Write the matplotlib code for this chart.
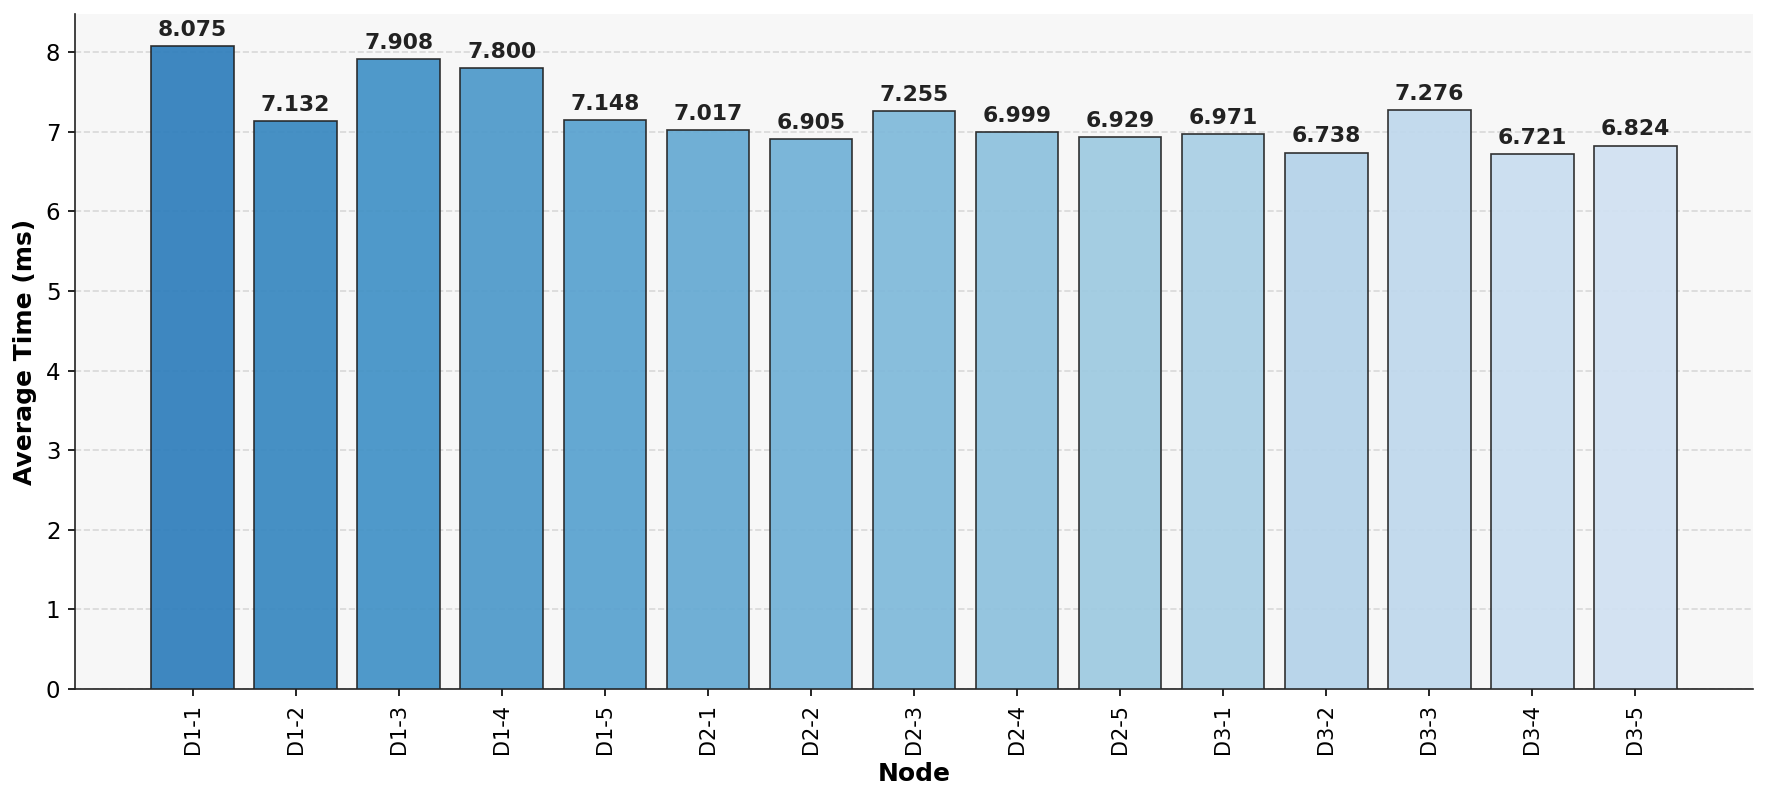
import matplotlib
matplotlib.use("Agg")
import matplotlib.pyplot as plt
import numpy as np

nodes = ["D1-1", "D1-2", "D1-3", "D1-4", "D1-5",
         "D2-1", "D2-2", "D2-3", "D2-4", "D2-5",
         "D3-1", "D3-2", "D3-3", "D3-4", "D3-5"]
avg_time = [8.075, 7.132, 7.908, 7.800, 7.148,
            7.017, 6.905, 7.255, 6.999, 6.929,
            6.971, 6.738, 7.276, 6.721, 6.824]

fig = plt.figure(figsize=(1767 / 150, 794 / 150), dpi=150)
ax = fig.add_axes([75 / 1767, 1 - 689 / 794, (1753 - 75) / 1767, (689 - 14) / 794])
ax.set_facecolor("#f7f7f7")

colors = plt.cm.Blues(np.linspace(0.7, 0.2, len(nodes)))
x = np.arange(len(nodes))
bars = ax.bar(x, avg_time, width=0.8, color=colors, edgecolor="#222222",
              linewidth=0.8, alpha=0.92, zorder=3)

for b, v in zip(bars, avg_time):
    ax.annotate(f"{v:.3f}", (b.get_x() + b.get_width() / 2, v),
                xytext=(0, 3), textcoords="offset points",
                ha="center", va="bottom", fontsize=10.5,
                fontweight="bold", color="#222222")

ax.set_xticks(x)
ax.set_xticklabels(nodes, rotation=90, fontsize=10)
ax.tick_params(axis="y", labelsize=11)
ax.set_ylim(0, max(avg_time) * 1.05)
ax.set_yticks(range(0, 9))
ax.set_xlabel("Node", fontsize=12, fontweight="bold")
ax.set_ylabel("Average Time (ms)", fontsize=12, fontweight="bold")
ax.grid(axis="y", linestyle="--", color="#d5d5d5", linewidth=0.8, alpha=0.9, zorder=0)
ax.set_axisbelow(True)
for s in ["top", "right"]:
    ax.spines[s].set_visible(False)
for s in ["left", "bottom"]:
    ax.spines[s].set_color("#222222")

fig.savefig("out.png", dpi=150)
